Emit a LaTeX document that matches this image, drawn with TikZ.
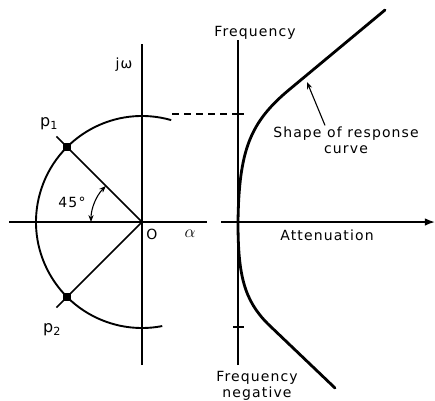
\documentclass[tikz,border=0pt]{standalone}
\usepackage{fontspec}
\setmainfont{DejaVu Sans}[LetterSpace=8]
\usetikzlibrary{arrows.meta}

\begin{document}
\begin{tikzpicture}[
    x=1pt, y=1pt, >=Latex,
    eje/.style={line width=1.6pt},
    curva/.style={line width=2.8pt, line join=round, line cap=round},
    polo/.style={rectangle, fill=black, minimum size=8pt, inner sep=0pt},
    etiqueta/.style={font=\fontsize{14}{16}\selectfont, inner sep=1pt, align=center}
]
    \useasboundingbox (0,0) rectangle (435,400);

    % PLANO COMPLEJO Y CIRCULO DE POLOS
    \coordinate (O) at (142,178);
    \coordinate (EjeIzq) at (9,178);
    \coordinate (EjeDer) at (207,178);
    \coordinate (EjeInf) at (142,35);
    \coordinate (EjeSup) at (142,356);
    \draw[eje] (EjeIzq) -- (EjeDer);
    \draw[eje] (EjeInf) -- (EjeSup);
    \draw[eje, line width=1.9pt] ([shift={(74:106)}] O) arc[start angle=74, end angle=281, radius=106];

    % POLOS A 45 GRADOS
    \coordinate (R1) at ([shift={(135:121)}] O);
    \coordinate (R2) at ([shift={(225:121)}] O);
    \draw[eje] (O) -- (R1);
    \draw[eje] (O) -- (R2);
    \node[polo] (p1) at ([shift={(135:106)}] O) {};
    \node[polo] (p2) at ([shift={(225:106)}] O) {};
    \draw[<->, line width=1.1pt, >={Stealth[length=7pt]}]
        ([shift={(135:51)}] O) arc[start angle=135, end angle=180, radius=51];

    % RESPUESTA
    \coordinate (A) at (238,178);
    \coordinate (FrecSup) at (238,360);
    \coordinate (FrecInf) at (238,35);
    \coordinate (AtenIni) at (221,178);
    \coordinate (AtenFin) at (435,178);
    \draw[eje] (FrecInf) -- (FrecSup);
    \draw[eje, ->] (AtenIni) -- (AtenFin);
    \coordinate (ArcoFin) at (172,286);
    \coordinate (MarcaSup) at (238,286);
    \draw[eje, dash pattern=on 7pt off 5pt] (ArcoFin) -- (MarcaSup);
    \draw[eje] (233,286) -- (244,286);
    \draw[eje] (233,73) -- (244,73);
    \draw[curva] (385,390) -- (290,311) .. controls (250,278) and (239,250) .. (238,178)
        .. controls (238,125) and (244,100) .. (268,76) -- (335,12);

    % ETIQUETAS
    \node[etiqueta] (jw) at (124,335) {jω};
    \node[etiqueta, font=\fontsize{16}{16}\selectfont] (lp1) at (49,276) {p\textsubscript{1}};
    \node[etiqueta, font=\fontsize{16}{16}\selectfont] (lp2) at (52,70) {p\textsubscript{2}};
    \node[etiqueta] (ang) at (72,198) {45°};
    \node[etiqueta] (lO) at (152,166) {O};
    \node[etiqueta, font=\fontsize{18}{18}\selectfont] (la) at (190,166) {$\alpha$};
    \node[etiqueta] (frec) at (255,367) {Frequency};
    \node[etiqueta] (aten) at (327,165) {Attenuation};
    \node[etiqueta] (forma) at (346,260) {Shape of response\\curve};
    \node[etiqueta] (frecneg) at (257,14) {Frequency\\negative};
    \coordinate (PuntoCurva) at (307,318);
    \draw[line width=1.1pt, ->, >={Stealth[length=7pt]}] (forma.north -| 325,0) -- (PuntoCurva);

\end{tikzpicture}
\end{document}
